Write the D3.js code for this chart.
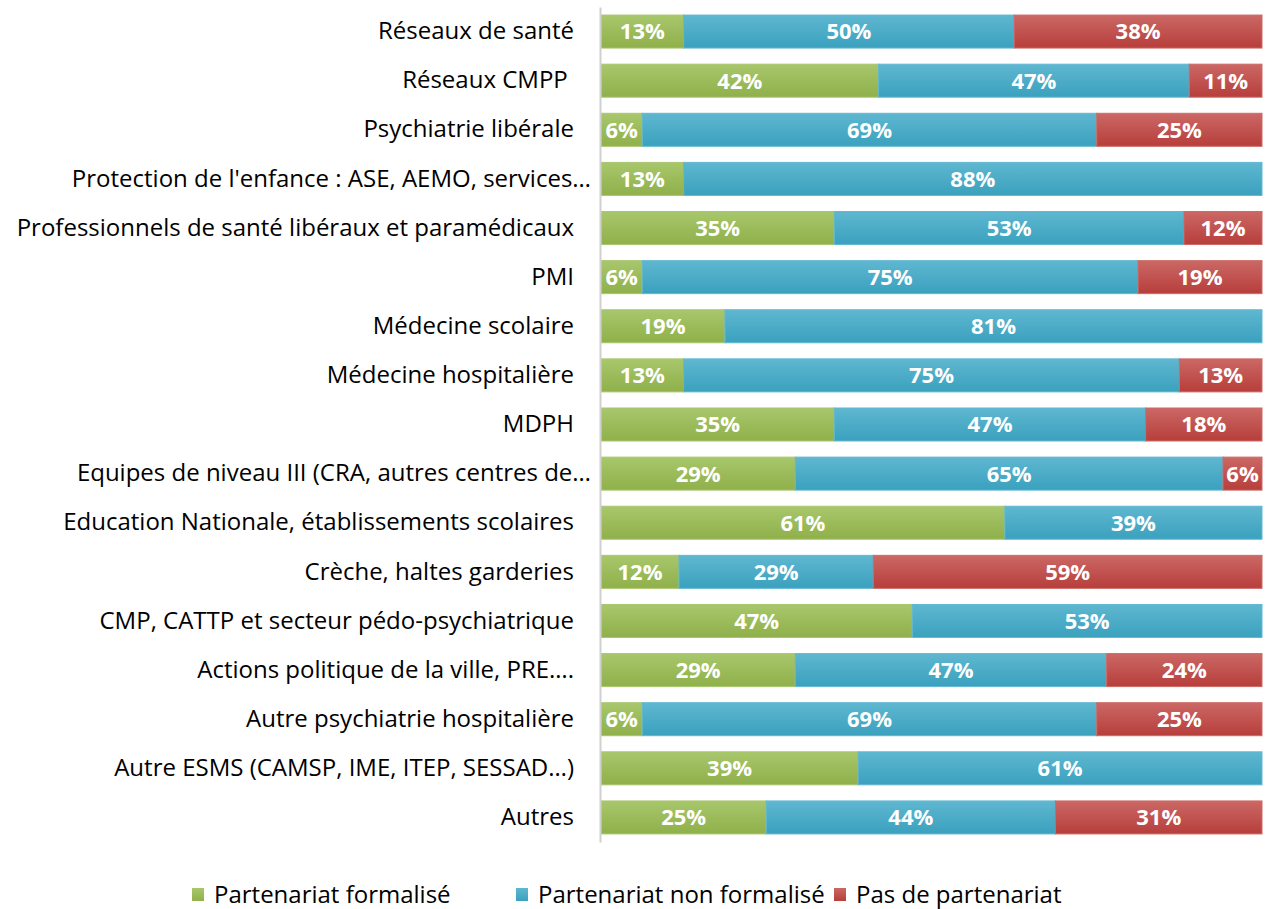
<!DOCTYPE html>
<html>
<head>
<meta charset="utf-8">
<script src="https://cdn.jsdelivr.net/npm/d3@7"></script>
<style>
  body { margin: 0; background: #fff; }
  svg { font-family: "Open Sans", sans-serif; }
</style>
</head>
<body>
<div id="chart"></div>
<script>
// data, top to bottom
const categories = [
  "Réseaux de santé",
  "Réseaux CMPP ",
  "Psychiatrie libérale",
  "Protection de l'enfance : ASE, AEMO, services…",
  "Professionnels de santé libéraux et paramédicaux",
  "PMI",
  "Médecine scolaire",
  "Médecine hospitalière",
  "MDPH",
  "Equipes de niveau III (CRA, autres centres de…",
  "Education Nationale, établissements scolaires",
  "Crèche, haltes garderies",
  "CMP, CATTP et secteur pédo-psychiatrique",
  "Actions politique de la ville, PRE….",
  "Autre psychiatrie hospitalière",
  "Autre ESMS (CAMSP, IME, ITEP, SESSAD…)",
  "Autres"
]
const formalise    = [12.5, 42, 6.25, 12.5, 35.3, 6.25, 18.75, 12.5, 35.3, 29.4, 61.1, 11.8, 47.1, 29.4, 6.25, 38.9, 25]
const nonFormalise = [50, 47, 68.75, 87.5, 52.9, 75, 81.25, 75, 47.1, 64.7, 38.9, 29.4, 52.9, 47.1, 68.75, 61.1, 43.75]
const pasPartenariat = [37.5, 11, 25, 0, 11.8, 18.75, 0, 12.5, 17.6, 5.9, 0, 58.8, 0, 23.5, 25, 0, 31.25]

const seriesNames = ["Partenariat formalisé", "Partenariat non formalisé", "Pas de partenariat"]
const seriesKeys = ["formalise", "nonFormalise", "pas"]
const colors = {
  formalise:    { top: "#a8c76c", bottom: "#8fb04a", stroke: "#a9c66f" },
  nonFormalise: { top: "#5fb7d0", bottom: "#3aa1be", stroke: "#62b8d1" },
  pas:          { top: "#cb6865", bottom: "#b73e3b", stroke: "#cc6a67" }
}

const dataset = categories.map((c, i) => ({
  category: c,
  formalise: formalise[i],
  nonFormalise: nonFormalise[i],
  pas: pasPartenariat[i]
}))

const dimensions = {
  width: 1271,
  height: 909,
  margin: { top: 7, right: 9, bottom: 67, left: 601 }
}
dimensions.boundedWidth = dimensions.width - dimensions.margin.left - dimensions.margin.right
dimensions.boundedHeight = dimensions.height - dimensions.margin.top - dimensions.margin.bottom

const wrapper = d3.select("#chart")
  .append("svg")
    .attr("width", dimensions.width)
    .attr("height", dimensions.height)

// gradients for the bar fills
const defs = wrapper.append("defs")
seriesKeys.forEach(k => {
  const g = defs.append("linearGradient")
    .attr("id", "grad-" + k)
    .attr("x1", 0).attr("y1", 0).attr("x2", 0).attr("y2", 1)
  g.append("stop").attr("offset", "0%").attr("stop-color", colors[k].top)
  g.append("stop").attr("offset", "100%").attr("stop-color", colors[k].bottom)
})

const bounds = wrapper.append("g")
  .attr("transform", `translate(${dimensions.margin.left},${dimensions.margin.top})`)

const xScale = d3.scaleLinear()
  .domain([0, 100])
  .range([0, dimensions.boundedWidth])

const yScale = d3.scaleBand()
  .domain(categories)
  .range([0, dimensions.boundedHeight])
  .paddingInner(0.328)
  .paddingOuter(0.164)

// normalise each row so the stack fills 100%
const stack = d3.stack()
  .keys(seriesKeys)
  .offset(d3.stackOffsetExpand)
const stacked = stack(dataset)

const layers = bounds.selectAll(".layer")
  .data(stacked)
  .join("g")
    .attr("class", "layer")

layers.selectAll("rect")
  .data(d => d.map(v => ({ key: d.key, v })))
  .join("rect")
    .attr("x", d => xScale(d.v[0] * 100))
    .attr("y", d => yScale(d.v.data.category))
    .attr("width", d => Math.max(0, xScale(d.v[1] * 100) - xScale(d.v[0] * 100)))
    .attr("height", yScale.bandwidth())
    .attr("fill", d => `url(#grad-${d.key})`)
    .attr("stroke", d => colors[d.key].stroke)
    .attr("stroke-width", 1)

layers.selectAll("text")
  .data(d => d.map(v => ({ key: d.key, v })).filter(d => d.v.data[d.key] > 0))
  .join("text")
    .attr("x", d => xScale((d.v[0] + d.v[1]) / 2 * 100))
    .attr("y", d => yScale(d.v.data.category) + yScale.bandwidth() / 2)
    .attr("dy", "0.36em")
    .attr("text-anchor", "middle")
    .attr("fill", "#fff")
    .attr("font-weight", "bold")
    .attr("font-size", 22)
    .text(d => Math.round(d.v.data[d.key]) + "%")

// y axis
const yAxisGenerator = d3.axisLeft(yScale).tickSize(0).tickPadding(26)
const yAxis = bounds.append("g")
  .attr("transform", "translate(-1,0)")
  .call(yAxisGenerator)
yAxis.select(".domain").attr("stroke", "#d0d0d0").attr("stroke-width", 2)
yAxis.selectAll(".tick text")
  .attr("font-size", 24)
  .attr("font-family", "'Open Sans', sans-serif")
  .attr("fill", "#000")
  .style("white-space", "pre")
  .attr("dx", d => d.endsWith("…") ? 17 : 0)

// legend
const legendX = [192, 516, 834]
const legend = wrapper.append("g")
  .selectAll("g")
  .data(seriesKeys)
  .join("g")
    .attr("transform", (d, i) => `translate(${legendX[i]},888)`)
legend.append("rect")
  .attr("width", 12).attr("height", 13)
  .attr("fill", d => `url(#grad-${d})`)
legend.append("text")
  .attr("x", 22)
  .attr("y", 7)
  .attr("dy", "0.32em")
  .attr("font-size", 24)
  .attr("fill", "#000")
  .text((d, i) => seriesNames[i])
</script>
</body>
</html>
